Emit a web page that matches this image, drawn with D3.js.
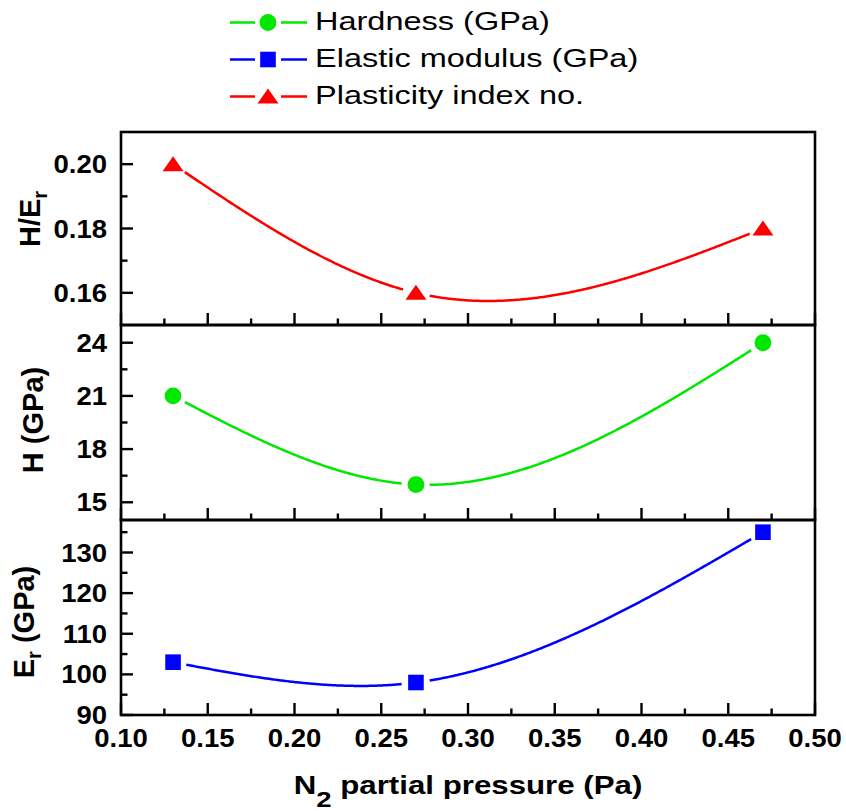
<!DOCTYPE html>
<html>
<head>
<meta charset="utf-8">
<script src="https://cdn.jsdelivr.net/npm/d3@7"></script>
<style>
  body { margin: 0; background: #fff; }
  svg { display: block; }
</style>
</head>
<body>
<svg id="chart" width="846" height="811"></svg>
<script>
// N2 partial pressure (Pa) of each deposited film
const pressure = [0.13, 0.27, 0.47];
// Measured properties at each pressure
const plasticityIndex = [0.20, 0.16, 0.18];   // H/Er
const hardness = [21, 16, 24];                // GPa
const elasticModulus = [103, 98, 135];        // GPa

// Axis ticks
const xTickValues = [0.10, 0.15, 0.20, 0.25, 0.30, 0.35, 0.40, 0.45, 0.50];
const plasticityTicks = [0.16, 0.18, 0.20];
const hardnessTicks = [15, 18, 21, 24];
const modulusTicks = [90, 100, 110, 120, 130];

const legendLabels = ["Hardness (GPa)", "Elastic modulus (GPa)", "Plasticity index no."];

const RED = "#ff0000", GREEN = "#00e800", BLUE = "#0000ff";
const FONT = "'Liberation Sans', Arial, sans-serif";

const svg = d3.select("#chart");
const left = 121, right = 815;
const edges = [132, 325, 520, 715];

const x = d3.scaleLinear().domain([0.10, 0.50]).range([left, right]);

// Natural cubic spline y(x) through the data points, used to draw the smooth connecting curve
function naturalSpline(xs, ys) {
  const n = xs.length;
  const h = d3.range(n - 1).map(i => xs[i + 1] - xs[i]);
  const M = new Array(n).fill(0);
  if (n > 2) {
    const a = [], b = [], c = [], r = [];
    for (let i = 1; i < n - 1; i++) {
      a.push(h[i - 1]); b.push(2 * (h[i - 1] + h[i])); c.push(h[i]);
      r.push(6 * ((ys[i + 1] - ys[i]) / h[i] - (ys[i] - ys[i - 1]) / h[i - 1]));
    }
    const m = b.length;
    for (let i = 1; i < m; i++) {
      const w = a[i] / b[i - 1];
      b[i] -= w * c[i - 1]; r[i] -= w * r[i - 1];
    }
    const sol = new Array(m);
    sol[m - 1] = r[m - 1] / b[m - 1];
    for (let i = m - 2; i >= 0; i--) sol[i] = (r[i] - c[i] * sol[i + 1]) / b[i];
    for (let i = 0; i < m; i++) M[i + 1] = sol[i];
  }
  return function (t) {
    let i = 0;
    while (i < n - 2 && t > xs[i + 1]) i++;
    const hi = h[i], A = (xs[i + 1] - t) / hi, B = (t - xs[i]) / hi;
    return A * ys[i] + B * ys[i + 1] +
      ((A * A * A - A) * M[i] + (B * B * B - B) * M[i + 1]) * hi * hi / 6;
  };
}

// Horizontal text with a slight horizontal widening
function wideText(g, tx, ty, str, size, weight, sx, anchor) {
  return g.append("g").attr("transform", `translate(${tx},${ty}) scale(${sx},1)`)
    .append("text")
    .attr("font-family", FONT).attr("font-size", size).attr("font-weight", weight)
    .attr("text-anchor", anchor).attr("fill", "#000")
    .text(str);
}

function markerPath(sel, kind, color) {
  if (kind === "circle") {
    sel.append("circle").attr("r", 8.4).attr("fill", color);
  } else if (kind === "square") {
    sel.append("rect").attr("x", -7.8).attr("y", -7.8).attr("width", 15.6).attr("height", 15.6).attr("fill", color);
  } else {
    sel.append("path").attr("d", "M0,-8L10.5,7L-10.5,7Z").attr("fill", color);
  }
}

const panels = [
  { values: plasticityIndex, domain: [0.15, 0.21], ticks: plasticityTicks, fmt: d3.format(".2f"),
    color: RED, kind: "triangle", title: ["H/E", "r", ""], titleX: 40, titleY: 219 },
  { values: hardness, domain: [14, 25], ticks: hardnessTicks, fmt: d3.format("d"),
    color: GREEN, kind: "circle", title: ["H (GPa)", "", ""], titleX: 43, titleY: 420 },
  { values: elasticModulus, domain: [90, 138], ticks: modulusTicks, fmt: d3.format("d"),
    color: BLUE, kind: "square", title: ["E", "r", " (GPa)"], titleX: 34, titleY: 622 }
];

const AXIS_W = 2.6, MAJOR = 12, MINOR = 6.5, GAP = 13;

panels.forEach((p, k) => {
  const top = edges[k], bottom = edges[k + 1];
  const y = d3.scaleLinear().domain(p.domain).range([bottom, top]);
  const g = svg.append("g");

  // curve with gaps around each marker
  const f = naturalSpline(pressure, p.values);
  const samples = d3.range(0, 401).map(i => {
    const t = pressure[0] + (pressure[pressure.length - 1] - pressure[0]) * i / 400;
    return [x(t), y(f(t))];
  });
  const pts = pressure.map((d, i) => [x(d), y(p.values[i])]);
  const line = d3.line()
    .defined(s => pts.every(q => Math.hypot(s[0] - q[0], s[1] - q[1]) > GAP));
  g.append("path").attr("d", line(samples)).attr("fill", "none")
    .attr("stroke", p.color).attr("stroke-width", 2.5);

  // markers
  pts.forEach(q => {
    const m = g.append("g").attr("transform", `translate(${q[0]},${q[1]})`);
    markerPath(m, p.kind, p.color);
  });

  // y ticks (inward) and labels
  const step = p.ticks[1] - p.ticks[0];
  const minor = d3.range(p.ticks[0] - step / 2, p.domain[1], step)
    .filter(v => v > p.domain[0] + 1e-9 && v < p.domain[1] - 1e-9);
  p.ticks.forEach(v => {
    g.append("line").attr("x1", left).attr("x2", left + MAJOR).attr("y1", y(v)).attr("y2", y(v))
      .attr("stroke", "#000").attr("stroke-width", 2.4);
    wideText(g, 107, y(v) + 9, p.fmt(v), 25, "bold", 1.1, "end");
  });
  minor.forEach(v => {
    g.append("line").attr("x1", left).attr("x2", left + MINOR).attr("y1", y(v)).attr("y2", y(v))
      .attr("stroke", "#000").attr("stroke-width", 2.4);
  });

  // x ticks (inward from the bottom edge of each panel)
  const xMinor = d3.range(0.125, 0.5, 0.05);
  xTickValues.forEach(v => {
    g.append("line").attr("x1", x(v)).attr("x2", x(v)).attr("y1", bottom).attr("y2", bottom - MAJOR)
      .attr("stroke", "#000").attr("stroke-width", 2.4);
  });
  xMinor.forEach(v => {
    g.append("line").attr("x1", x(v)).attr("x2", x(v)).attr("y1", bottom).attr("y2", bottom - MINOR)
      .attr("stroke", "#000").attr("stroke-width", 2.4);
  });

  // frame
  g.append("rect").attr("x", left).attr("y", top).attr("width", right - left).attr("height", bottom - top)
    .attr("fill", "none").attr("stroke", "#000").attr("stroke-width", AXIS_W);

  // y title (rotated)
  const tt = svg.append("text")
    .attr("transform", `translate(${p.titleX},${p.titleY}) rotate(-90)`)
    .attr("font-family", FONT).attr("font-size", 29).attr("font-weight", "bold")
    .attr("text-anchor", "middle");
  tt.append("tspan").text(p.title[0]);
  if (p.title[1]) {
    tt.append("tspan").attr("font-size", 20).attr("dy", 7).text(p.title[1]);
    if (p.title[2]) tt.append("tspan").attr("dy", -7).text(p.title[2]);
  }
});

// x tick labels under the bottom panel
xTickValues.forEach(v => {
  wideText(svg, x(v), 747, d3.format(".2f")(v), 25, "bold", 1.1, "middle");
});

// x axis title
const xt = svg.append("g").attr("transform", `translate(${(left + right) / 2},794) scale(1.25,1)`)
  .append("text").attr("font-family", FONT).attr("font-size", 25).attr("font-weight", "bold")
  .attr("text-anchor", "middle");
xt.append("tspan").text("N");
xt.append("tspan").attr("font-size", 22).attr("dy", 13).text("2");
xt.append("tspan").attr("dy", -13).text(" partial pressure (Pa)");

// legend
const legendItems = [
  { label: legendLabels[0], color: GREEN, kind: "circle" },
  { label: legendLabels[1], color: BLUE, kind: "square" },
  { label: legendLabels[2], color: RED, kind: "triangle" }
];
legendItems.forEach((d, i) => {
  const cy = 22.5 + i * 37;
  const lg = svg.append("g");
  lg.append("line").attr("x1", 230).attr("x2", 255).attr("y1", cy).attr("y2", cy)
    .attr("stroke", d.color).attr("stroke-width", 2.5);
  lg.append("line").attr("x1", 281).attr("x2", 307).attr("y1", cy).attr("y2", cy)
    .attr("stroke", d.color).attr("stroke-width", 2.5);
  const m = lg.append("g").attr("transform", `translate(268,${cy})`);
  markerPath(m, d.kind, d.color);
  wideText(lg, 315, cy + 7.5, d.label, 26, "normal", 1.25, "start");
});
</script>
</body>
</html>
